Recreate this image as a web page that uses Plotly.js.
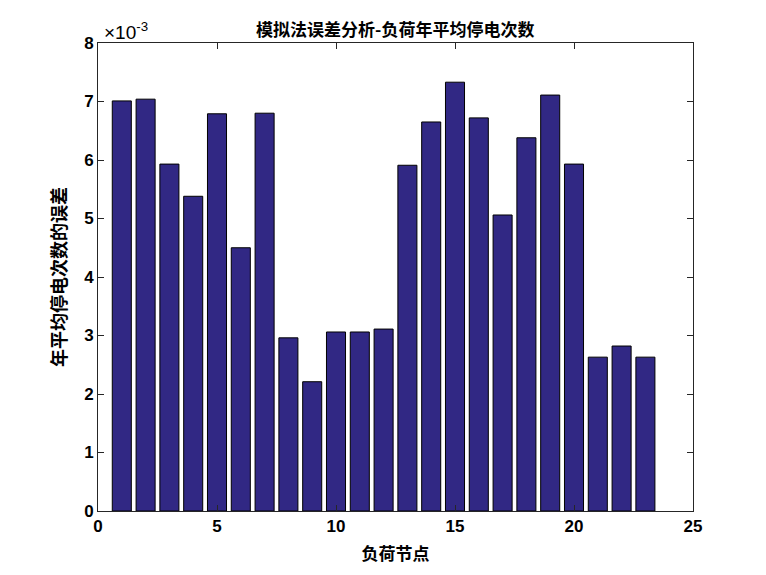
<!DOCTYPE html>
<html>
<head>
<meta charset="utf-8">
<script src="https://cdn.plot.ly/plotly-3.0.1.min.js"></script>
<style>html,body{margin:0;padding:0;background:#fff;}#chart{width:766px;height:575px;}</style>
</head>
<body>
<div id="chart"></div>
<script>
const nodes = [1,2,3,4,5,6,7,8,9,10,11,12,13,14,15,16,17,18,19,20,21,22,23];
const errors = [0.00701,0.00704,0.00593,0.00538,0.00679,0.00450,0.00680,0.00296,0.00221,0.00306,0.00306,0.00311,0.00591,0.00665,0.00733,0.00672,0.00506,0.00638,0.00711,0.00593,0.00263,0.00282,0.00263];
const yTickVals = [0,0.001,0.002,0.003,0.004,0.005,0.006,0.007,0.008];
const yTickText = ['0','1','2','3','4','5','6','7','8'];
const xTickVals = [0,5,10,15,20,25];

const tickFont = {family:'Liberation Sans, Arial, sans-serif', size:17, color:'#000', weight:'bold'};
const cjkFont = {family:'Noto Sans CJK SC, sans-serif', size:17, color:'#000', weight:'bold'};

Plotly.newPlot('chart', [{
  type:'bar', x:nodes, y:errors, width:0.8,
  marker:{color:'rgb(49,40,132)', line:{color:'#000', width:1}},
  hoverinfo:'skip'
}], {
  width:766, height:575,
  margin:{l:98, r:73, t:43, b:64},
  paper_bgcolor:'#fff', plot_bgcolor:'#fff',
  showlegend:false,
  title:{text:'模拟法误差分析-负荷年平均停电次数', font:cjkFont, x:0.516, xanchor:'center', y:0.948, yanchor:'middle'},
  xaxis:{range:[0,25], tickvals:xTickVals, ticks:'inside', ticklen:6, tickcolor:'#262626',
    showline:true, linecolor:'#262626', linewidth:1, mirror:'ticks', showgrid:false, zeroline:false,
    tickfont:tickFont, title:{text:'负荷节点', font:cjkFont, standoff:12}},
  yaxis:{range:[0,0.008], tickvals:yTickVals, ticktext:yTickText, ticks:'inside', ticklen:6, tickcolor:'#262626',
    showline:true, linecolor:'#262626', linewidth:1, mirror:'ticks', showgrid:false, zeroline:false,
    tickfont:tickFont, title:{text:'年平均停电次数的误差', font:{family:'Noto Sans CJK SC, sans-serif', size:18, color:'#000', weight:'bold'}, standoff:12}},
  annotations:[{xref:'paper', yref:'paper', x:0.006, y:0.995, xanchor:'left', yanchor:'bottom',
    text:'×10<sup>-3</sup>', showarrow:false, font:{family:'Liberation Sans, Arial, sans-serif', size:19, color:'#000'}}]
}, {displayModeBar:false, staticPlot:true});
</script>
</body>
</html>
